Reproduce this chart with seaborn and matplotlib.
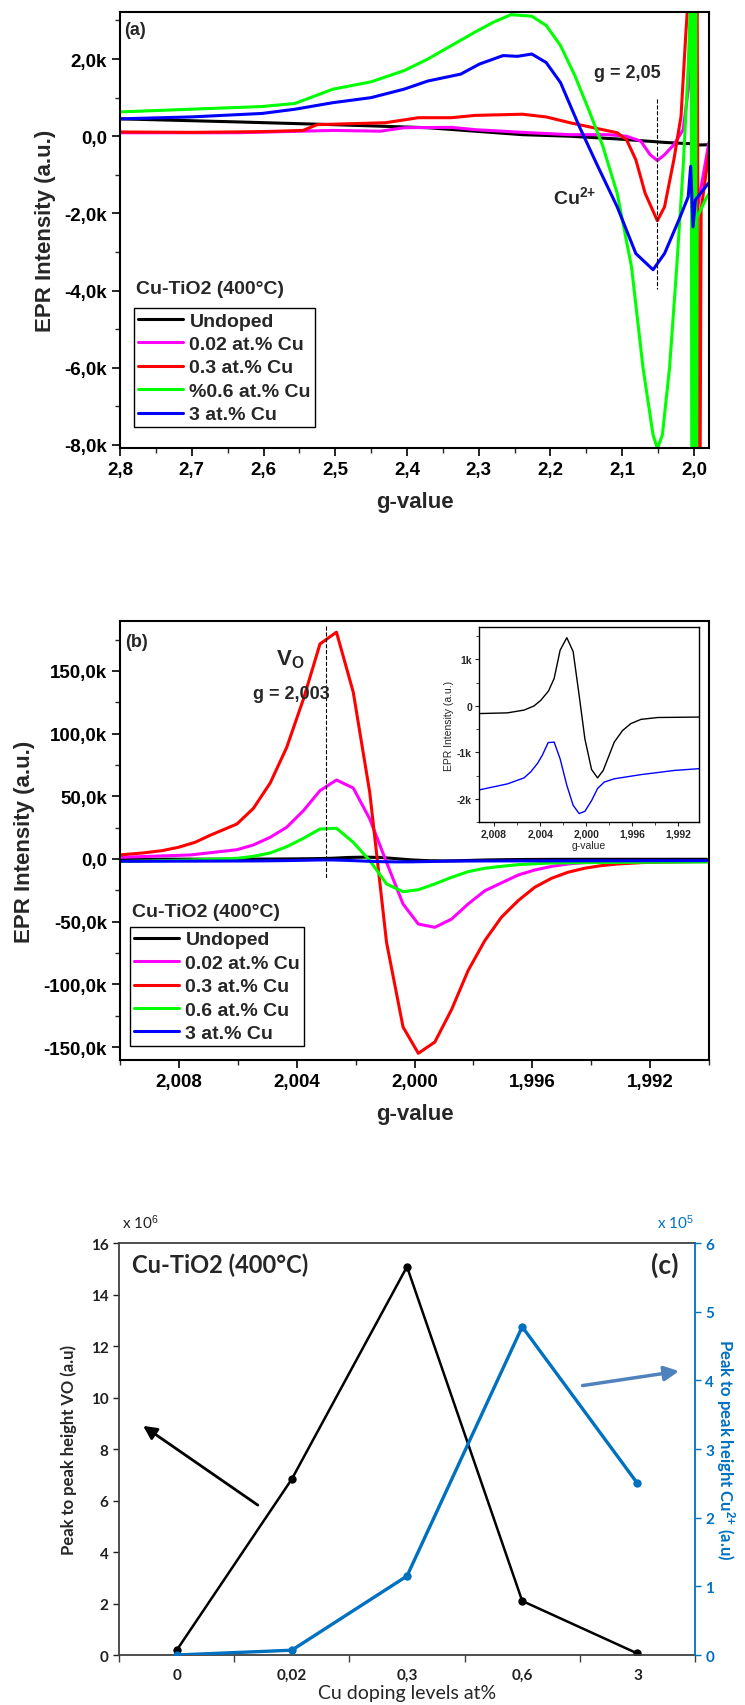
import numpy as np
import seaborn as sns
import matplotlib.pyplot as plt
from matplotlib.ticker import MultipleLocator, FuncFormatter, FixedLocator

sns.set_theme(style="ticks")
plt.rcParams['font.family'] = ['Liberation Sans', 'DejaVu Sans']
plt.rcParams['mathtext.fontset'] = 'custom'
plt.rcParams['mathtext.rm'] = 'Liberation Sans'
plt.rcParams['mathtext.bf'] = 'Liberation Sans:bold'
plt.rcParams['mathtext.it'] = 'Liberation Sans:italic'

# ---------------- data: panel (a), g-value / intensity in k ----------------
labels_a = ["Undoped", "0.02 at.% Cu", "0.3 at.% Cu", "%0.6 at.% Cu", "3 at.% Cu"]
labels_b = ["Undoped", "0.02 at.% Cu", "0.3 at.% Cu", "0.6 at.% Cu", "3 at.% Cu"]
colors = ["#000000", "#FF00FF", "#FF0000", "#00FF00", "#0000FF"]

a_undoped_g = [2.800, 2.635, 2.503, 2.371, 2.305, 2.239, 2.173, 2.107, 2.041, 2.011, 2.002, 1.999, 1.979]
a_undoped_v = [0.45, 0.37, 0.30, 0.22, 0.13, 0.04, 0.00, -0.07, -0.16, -0.19, -0.19, -0.23, -0.22]

a_002_g = [2.800, 2.635, 2.503, 2.437, 2.404, 2.338, 2.305, 2.239, 2.173, 2.120, 2.094, 2.074,
           2.061, 2.051, 2.041, 2.028, 2.015, 2.006, 2.002, 1.9975, 1.979]
a_002_v = [0.09, 0.09, 0.15, 0.13, 0.22, 0.23, 0.17, 0.10, 0.04, 0.04, 0.00, -0.13,
           -0.48, -0.63, -0.48, -0.22, 0.17, 1.5, 3.5, -2.1, -0.15]

a_03_g = [2.800, 2.700, 2.600, 2.545, 2.525, 2.430, 2.384, 2.338, 2.305, 2.239, 2.206, 2.173,
          2.140, 2.107, 2.094, 2.081, 2.068, 2.051, 2.041, 2.028, 2.018, 2.0112, 2.008,
          1.9955, 1.9935, 1.9915, 1.9900, 1.979]
a_03_v = [0.11, 0.10, 0.12, 0.15, 0.30, 0.35, 0.48, 0.48, 0.54, 0.57, 0.50, 0.35,
          0.22, 0.09, -0.09, -0.61, -1.48, -2.19, -1.83, -0.61, 0.52, 2.7, 3.6,
          3.6, -9.0, -9.0, -1.9, -0.4]

a_06_g = [2.800, 2.701, 2.602, 2.556, 2.503, 2.450, 2.404, 2.371, 2.338, 2.305, 2.279, 2.255,
          2.226, 2.206, 2.186, 2.166, 2.147, 2.127, 2.107, 2.087, 2.071, 2.057, 2.051, 2.044,
          2.034, 2.024, 2.015, 2.008, 2.004, 2.0025, 2.0018, 2.0011, 2.0004, 1.9997, 1.9990,
          1.9983, 1.9976, 1.9969, 1.9962, 1.9955, 1.982, 1.979]
a_06_v = [0.63, 0.70, 0.77, 0.85, 1.22, 1.41, 1.70, 2.00, 2.35, 2.70, 2.96, 3.15,
          3.11, 2.87, 2.35, 1.57, 0.70, -0.26, -1.48, -3.39, -6.00, -7.74, -8.09, -7.74,
          -6.00, -3.39, -0.78, 1.8, 4.0, -9.0, 4.0, -9.0, 4.0, -9.0, 4.0,
          -9.0, 4.0, -9.0, -9.0, -2.1, -1.57, -1.5]

a_3_g = [2.800, 2.701, 2.602, 2.556, 2.503, 2.450, 2.404, 2.371, 2.325, 2.299, 2.266, 2.246,
         2.226, 2.206, 2.186, 2.160, 2.134, 2.107, 2.081, 2.057, 2.041, 2.021, 2.008, 2.0046,
         2.0013, 1.998, 1.979]
a_3_v = [0.45, 0.50, 0.59, 0.70, 0.87, 1.00, 1.22, 1.43, 1.61, 1.87, 2.09, 2.07,
         2.13, 1.91, 1.39, 0.26, -0.78, -1.83, -3.04, -3.46, -3.04, -2.17, -1.57, -0.78,
         -2.35, -1.65, -1.20]

# ---------------- data: panel (b), g-value / intensity in k ----------------
b_undoped_g = [2.0100, 2.0093, 2.00684, 2.00539, 2.00452, 2.00394, 2.00327, 2.00278, 2.00226,
               2.00168, 2.00113, 2.00061, 2.00011, 1.99953, 1.99901, 1.99852, 1.99800, 1.99756,
               1.99684, 1.99611, 1.99524, 1.99379, 1.99008]
b_undoped_v = [-0.165, -0.165, -0.15, -0.09, 0.0, 0.12, 0.32, 0.59, 1.20,
               1.47, 1.17, 0.23, -0.71, -1.37, -1.55, -1.39, -1.06, -0.78,
               -0.53, -0.38, -0.29, -0.25, -0.24]

b_3_g = [2.0100, 2.0093, 2.00684, 2.00539, 2.00481, 2.00423, 2.00380, 2.00330, 2.00278, 2.00226,
         2.00168, 2.00113, 2.00061, 2.00011, 1.99953, 1.99901, 1.99843, 1.99756, 1.99524,
         1.99234, 1.99008]
b_3_v = [-1.85, -1.81, -1.68, -1.55, -1.42, -1.24, -1.06, -0.79, -0.78, -1.14,
         -1.71, -2.14, -2.32, -2.27, -2.04, -1.78, -1.64, -1.57, -1.48,
         -1.39, -1.35]

b_grid = [2.01003, 2.00923, 2.00858, 2.00802, 2.00745, 2.00697, 2.00603, 2.00547, 2.00490,
          2.00434, 2.00377, 2.00321, 2.00265, 2.00208, 2.00152, 2.00095, 2.00039, 1.99987,
          1.99931, 1.99874, 1.99818, 1.99761, 1.99705, 1.99648, 1.99592, 1.99535, 1.99479,
          1.99423, 1.99366, 1.99310, 1.99229, 1.99148, 1.99000]
b_03_v = [3.2, 4.8, 6.6, 9.3, 13.3, 18.6, 27.9, 40.4, 60.6,
          89.0, 127.7, 171.5, 180.9, 133.0, 53.0, -66.5, -134.0, -155.0,
          -146.0, -120.0, -89.0, -65.0, -46.5, -33.2, -22.6, -15.4, -10.6,
          -7.4, -5.3, -4.0, -2.9, -2.4, -1.9]

b_002_g = [2.01003, 2.00761, 2.00603, 2.00547, 2.00490, 2.00434, 2.00377, 2.00321, 2.00265,
           2.00208, 2.00152, 2.00095, 2.00039, 1.99987, 1.99931, 1.99874, 1.99818, 1.99761,
           1.99705, 1.99648, 1.99592, 1.99535, 1.99479, 1.99423, 1.99310, 1.99000]
b_002_v = [1.3, 3.2, 7.4, 11.2, 17.3, 25.3, 38.6, 54.5, 63.0,
           56.6, 31.9, -2.7, -35.9, -51.9, -54.5, -47.9, -35.9, -25.3,
           -19.1, -12.8, -8.8, -5.9, -4.0, -2.9, -2.4, -2.1]

b_06_g = [2.01003, 2.00761, 2.00603, 2.00547, 2.00490, 2.00434, 2.00377, 2.00321, 2.00265,
          2.00208, 2.00152, 2.00095, 2.00039, 1.99987, 1.99931, 1.99874, 1.99818, 1.99761,
          1.99705, 1.99648, 1.99535, 1.99310, 1.99000]
b_06_v = [-2.1, -0.8, 0.5, 2.1, 4.8, 9.8, 16.5, 23.9, 24.5,
          13.3, -1.3, -19.9, -26.1, -24.5, -19.9, -14.6, -10.1, -7.4,
          -5.9, -4.5, -3.2, -2.7, -2.4]

# ---------------- data: panel (c) ----------------
cats = ["0", "0,02", "0,3", "0,6", "3"]
vo_height = [0.18, 6.83, 15.08, 2.10, 0.06]     # x 10^6
cu_height = [0.00, 0.07, 1.15, 4.78, 2.50]      # x 10^5

series_a = [(a_undoped_g, a_undoped_v), (a_002_g, a_002_v), (a_03_g, a_03_v),
            (a_06_g, a_06_v), (a_3_g, a_3_v)]
series_b = [(b_undoped_g, b_undoped_v), (b_002_g, b_002_v), (b_grid, b_03_v),
            (b_06_g, b_06_v), (b_3_g, b_3_v)]


def fmt_k(v, pos):
    if abs(v) < 1e-9:
        return "0,0"
    return f"{v:.1f}k".replace(".", ",")


def style_epr(ax):
    for s in ax.spines.values():
        s.set_linewidth(1.5)
        s.set_color("black")
    ax.tick_params(axis="both", which="major", direction="out", length=6, width=1.2,
                   labelsize=13.5, colors="black")
    ax.tick_params(axis="both", which="minor", direction="out", length=3.5, width=1.0)
    for t in ax.get_xticklabels() + ax.get_yticklabels():
        t.set_fontweight("bold")
    ax.yaxis.set_major_formatter(FuncFormatter(fmt_k))
    ax.set_ylabel("EPR Intensity (a.u.)", fontsize=16, fontweight="bold", labelpad=6)
    ax.set_xlabel("g-value", fontsize=16, fontweight="bold", labelpad=9)


fig = plt.figure(figsize=(7.45, 17.06), dpi=100)

# ---------------- panel (a) ----------------
ax1 = fig.add_axes([0.1611, 0.7368, 0.7906, 0.2556])
for (g, v), c, lab in zip(series_a, colors, labels_a):
    sns.lineplot(x=g, y=v, ax=ax1, color=c, linewidth=2.2, sort=False, estimator=None, label=lab)
ax1.set_xlim(2.8, 1.979)
ax1.set_ylim(-8.08, 3.22)
ax1.xaxis.set_major_locator(MultipleLocator(0.1))
ax1.xaxis.set_minor_locator(MultipleLocator(0.05))
ax1.yaxis.set_major_locator(MultipleLocator(2))
ax1.yaxis.set_minor_locator(MultipleLocator(1))
ax1.xaxis.set_major_formatter(FuncFormatter(lambda v, p: f"{v:.1f}".replace(".", ",")))
style_epr(ax1)
ax1.plot([2.051, 2.051], [0.96, -3.96], ls="--", color="black", lw=0.8)
ax1.text(2.14, 1.65, "g = 2,05", fontsize=13, fontweight="bold", va="center")
ax1.text(2.197, -1.55, r"Cu$^{\mathbf{2{+}}}$", fontsize=14, fontweight="bold", va="center")
ax1.text(0.007, 0.959, "(a)", transform=ax1.transAxes, fontsize=13, fontweight="bold", va="center")
ax1.text(0.027, 0.365, "Cu-TiO2 (400°C)", transform=ax1.transAxes, fontsize=14,
         fontweight="bold", va="center")
leg = ax1.legend(loc="upper left", bbox_to_anchor=(0.0238, 0.321), borderaxespad=0,
                 frameon=True, fancybox=False, edgecolor="black", framealpha=1,
                 prop={"weight": "bold", "size": 14}, labelspacing=0.3, handlelength=2.3,
                 handletextpad=0.35, borderpad=0.2)
leg.get_frame().set_linewidth(1.0)

# ---------------- panel (b) ----------------
ax2 = fig.add_axes([0.1611, 0.3781, 0.7906, 0.2573])
for (g, v), c, lab in zip(series_b, colors, labels_b):
    sns.lineplot(x=g, y=v, ax=ax2, color=c, linewidth=2.2, sort=False, estimator=None, label=lab)
ax2.set_xlim(2.0100, 1.9900)
ax2.set_ylim(-160.3, 189.8)
ax2.xaxis.set_major_locator(MultipleLocator(0.004))
ax2.xaxis.set_minor_locator(MultipleLocator(0.002))
ax2.yaxis.set_major_locator(MultipleLocator(50))
ax2.yaxis.set_minor_locator(MultipleLocator(25))
ax2.xaxis.set_major_formatter(FuncFormatter(lambda v, p: f"{v:.3f}".replace(".", ",")))
style_epr(ax2)
ax2.plot([2.003, 2.003], [186, -16], ls="--", color="black", lw=0.8)
ax2.text(2.0047, 160, r"V$_{\mathbf{O}}$", fontsize=16, fontweight="bold", va="center")
ax2.text(2.0055, 132, "g = 2,003", fontsize=13, fontweight="bold", va="center")
ax2.text(0.008, 0.954, "(b)", transform=ax2.transAxes, fontsize=13, fontweight="bold", va="center")
ax2.text(0.02, 0.339, "Cu-TiO2 (400°C)", transform=ax2.transAxes, fontsize=14,
         fontweight="bold", va="center")
leg = ax2.legend(loc="upper left", bbox_to_anchor=(0.017, 0.303), borderaxespad=0,
                 frameon=True, fancybox=False, edgecolor="black", framealpha=1,
                 prop={"weight": "bold", "size": 14}, labelspacing=0.3, handlelength=2.3,
                 handletextpad=0.35, borderpad=0.2)
leg.get_frame().set_linewidth(1.0)

# inset
axi = fig.add_axes([0.643, 0.5176, 0.2953, 0.1143])
sns.lineplot(x=b_undoped_g, y=b_undoped_v, ax=axi, color="black", linewidth=1.0,
             sort=False, estimator=None)
sns.lineplot(x=b_3_g, y=b_3_v, ax=axi, color="#0000FF", linewidth=1.0,
             sort=False, estimator=None)
axi.set_xlim(2.0093, 1.9902)
axi.set_ylim(-2.5, 1.7)
axi.xaxis.set_major_locator(MultipleLocator(0.004))
axi.xaxis.set_minor_locator(MultipleLocator(0.002))
axi.yaxis.set_major_locator(MultipleLocator(1))
axi.yaxis.set_minor_locator(MultipleLocator(0.5))
axi.xaxis.set_major_formatter(FuncFormatter(lambda v, p: f"{v:.3f}".replace(".", ",")))
axi.yaxis.set_major_formatter(FuncFormatter(lambda v, p: "0" if abs(v) < 1e-9 else f"{int(round(v))}k"))
for s in axi.spines.values():
    s.set_linewidth(1.0)
    s.set_color("black")
axi.tick_params(axis="both", which="major", direction="out", length=3, width=0.8, labelsize=7.5, pad=2)
axi.tick_params(axis="both", which="minor", direction="out", length=2, width=0.6)
for t in axi.get_xticklabels() + axi.get_yticklabels():
    t.set_fontweight("bold")
axi.set_xlabel("g-value", fontsize=7.5, labelpad=1)
axi.set_ylabel("EPR Intensity (a.u.)", fontsize=7.5, labelpad=2)

# ---------------- panel (c) ----------------
lato = ["Lato", "DejaVu Sans"]
blue = "#0070C0"
ax3 = fig.add_axes([0.1597, 0.0293, 0.7732, 0.2415])
ax3r = ax3.twinx()
xpos = np.arange(len(cats))
sns.lineplot(x=xpos, y=vo_height, ax=ax3, color="black", linewidth=1.8, marker="o",
             markersize=6, markeredgewidth=0, sort=False, estimator=None)
sns.lineplot(x=xpos, y=cu_height, ax=ax3r, color=blue, linewidth=2.4, marker="o",
             markersize=6, markeredgewidth=0, sort=False, estimator=None)
ax3.set_xlim(-0.5, 4.5)
ax3.set_ylim(0, 16)
ax3r.set_ylim(0, 6)
ax3.set_xticks(xpos)
ax3.set_xticklabels(cats)
ax3.xaxis.set_minor_locator(FixedLocator(np.arange(-0.5, 5.0, 1.0)))
ax3.yaxis.set_major_locator(MultipleLocator(2))
ax3r.yaxis.set_major_locator(MultipleLocator(1))
ax3.tick_params(axis="x", which="major", length=0, pad=9, labelsize=11, colors="#202020")
ax3.tick_params(axis="x", which="minor", length=5, width=1.0, direction="out", color="#404040")
ax3.tick_params(axis="y", length=4, width=1.0, direction="out", labelsize=11, colors="#202020")
ax3r.tick_params(axis="y", length=4, width=1.0, direction="out", labelsize=11, colors=blue)
for t in ax3.get_xticklabels() + ax3.get_yticklabels() + ax3r.get_yticklabels():
    t.set_fontweight("bold")
    t.set_family(lato)
for side in ["left", "bottom", "top"]:
    ax3.spines[side].set_color("#404040")
    ax3.spines[side].set_linewidth(1.3)
ax3r.spines["right"].set_color(blue)
ax3r.spines["right"].set_linewidth(1.3)
for side in ["left", "bottom", "top"]:
    ax3r.spines[side].set_visible(False)
ax3.spines["right"].set_visible(False)
ax3.set_xlabel("Cu doping levels at%", fontsize=14, family=lato, labelpad=2)
ax3.set_ylabel("Peak to peak height VO (a.u)", fontsize=12, fontweight="bold", family=lato, labelpad=10)
ax3r.set_ylabel(r"Peak to peak height Cu$^{\mathbf{2{+}}}$ (a.u)", fontsize=12, fontweight="bold",
                family=lato, color=blue, rotation=-90, labelpad=16)
ax3.text(0.023, 0.949, "Cu-TiO2 (400°C)", transform=ax3.transAxes, fontsize=17,
         fontweight="bold", family=lato, va="center")
ax3.text(0.948, 0.949, "(c)", transform=ax3.transAxes, fontsize=19, fontweight="bold",
         family=lato, va="center", ha="center")
ax3.text(0.005, 1.051, r"x 10$^{6}$", transform=ax3.transAxes, fontsize=11, family=lato,
         va="center", color="#202020")
ax3.text(0.998, 1.051, r"x 10$^{5}$", transform=ax3.transAxes, fontsize=11, family=lato,
         va="center", ha="right", color=blue)
ax3.annotate("", xy=(0.038, 0.56), xytext=(0.245, 0.36), xycoords="axes fraction",
             arrowprops=dict(arrowstyle="-|>", color="black", lw=2, mutation_scale=20))
ax3.annotate("", xy=(0.977, 0.69), xytext=(0.80, 0.653), xycoords="axes fraction",
             arrowprops=dict(arrowstyle="-|>", color="#4F81BD", lw=2.5, mutation_scale=22))

fig.savefig("out.png", dpi=100)
